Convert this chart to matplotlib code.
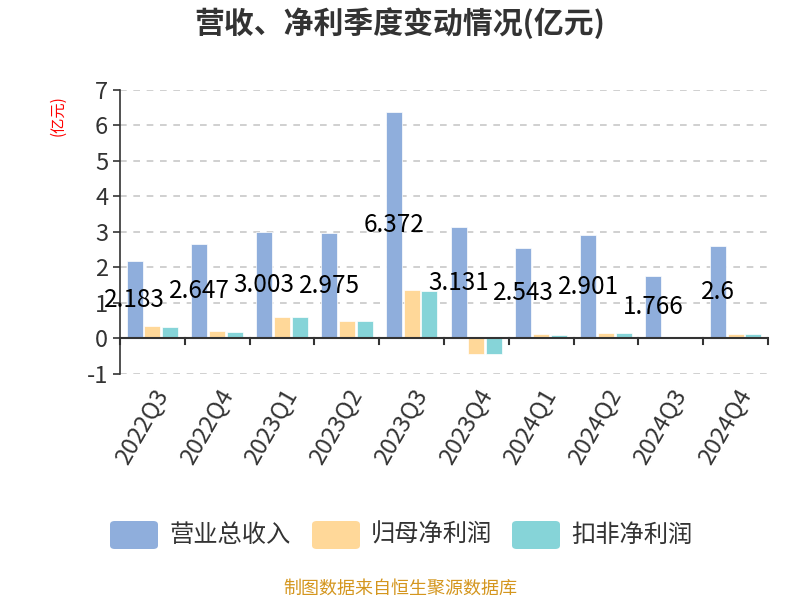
import matplotlib
matplotlib.use("Agg")
import matplotlib.pyplot as plt
from matplotlib.patches import FancyBboxPatch
import numpy as np

plt.rcParams['font.family'] = ['Noto Sans CJK SC', 'DejaVu Sans']
plt.rcParams['axes.unicode_minus'] = False

quarters = ["2022Q3", "2022Q4", "2023Q1", "2023Q2", "2023Q3", "2023Q4",
            "2024Q1", "2024Q2", "2024Q3", "2024Q4"]
revenue = [2.183, 2.647, 3.003, 2.975, 6.372, 3.131, 2.543, 2.901, 1.766, 2.6]
net_profit = [0.34, 0.21, 0.61, 0.49, 1.35, -0.43, 0.11, 0.15, 0.02, 0.12]
deducted_profit = [0.32, 0.18, 0.60, 0.48, 1.32, -0.44, 0.10, 0.15, 0.01, 0.12]
series_names = ["营业总收入", "归母净利润", "扣非净利润"]
colors = ["#8FAEDC", "#FFD899", "#86D4D8"]

fig = plt.figure(figsize=(8, 6), dpi=100)
ax = fig.add_axes([0.15, 0.377, 0.81, 0.473])

x = np.arange(len(quarters))
w = 0.247
step = 0.275
for i, (vals, c) in enumerate(zip([revenue, net_profit, deducted_profit], colors)):
    ax.bar(x + (i - 1) * step, vals, width=w, color=c, edgecolor='white', linewidth=0.5, zorder=3)

for xi, v in zip(x, revenue):
    ax.text(xi - step, v / 2, f"{v:g}", ha='center', va='center', fontsize=17.5,
            color='black', zorder=5)

ax.set_xlim(-0.5, len(quarters) - 0.5)
ax.set_ylim(-1, 7)
ax.set_yticks(range(-1, 8))
ax.tick_params(axis='y', labelsize=17, colors='#333333', length=5, width=1.2)
ax.yaxis.grid(True, linestyle=(0, (4, 4)), color='#c8c8c8', linewidth=1.2, zorder=0)

for s in ['top', 'right', 'bottom']:
    ax.spines[s].set_visible(False)
ax.spines['left'].set_color('#333333')
ax.spines['left'].set_linewidth(1.2)
ax.axhline(0, color='#333333', linewidth=1.5, zorder=4)
for b in np.arange(-0.5, len(quarters)):
    ax.plot([b, b], [0, -0.17], color='#333333', linewidth=1.5, zorder=4, clip_on=False)

ax.set_xticks(x)
ax.set_xticklabels(quarters, rotation=60, ha='right', rotation_mode='anchor', fontsize=17, color='#333333')
ax.tick_params(axis='x', length=0, pad=8)

fig.text(0.073, 0.808, "(亿元)", rotation=90, color='red', fontsize=11, ha='center', va='center')
fig.text(0.5, 0.962, "营收、净利季度变动情况(亿元)", ha='center', va='center', fontsize=21.5,
         fontweight='bold', color='#333333')

# legend
legend_items = [(110, series_names[0]), (312, series_names[1]), (512, series_names[2])]
for (lx, name), c in zip(legend_items, colors):
    px0 = lx / 800
    py0 = (600 - 549) / 600
    patch = FancyBboxPatch((px0, py0), 48 / 800, 28 / 600,
                           boxstyle="round,pad=0,rounding_size=0.006",
                           transform=fig.transFigure, facecolor=c, edgecolor='none')
    fig.patches.append(patch)
    fig.text((lx + 59) / 800, (600 - 535) / 600, name, ha='left', va='center',
             fontsize=17.5, color='#333333')

fig.text(0.5, (600 - 589) / 600, "制图数据来自恒生聚源数据库", ha='center', va='center',
         fontsize=13, color='#D4961E')

fig.savefig("out.png", dpi=100)
